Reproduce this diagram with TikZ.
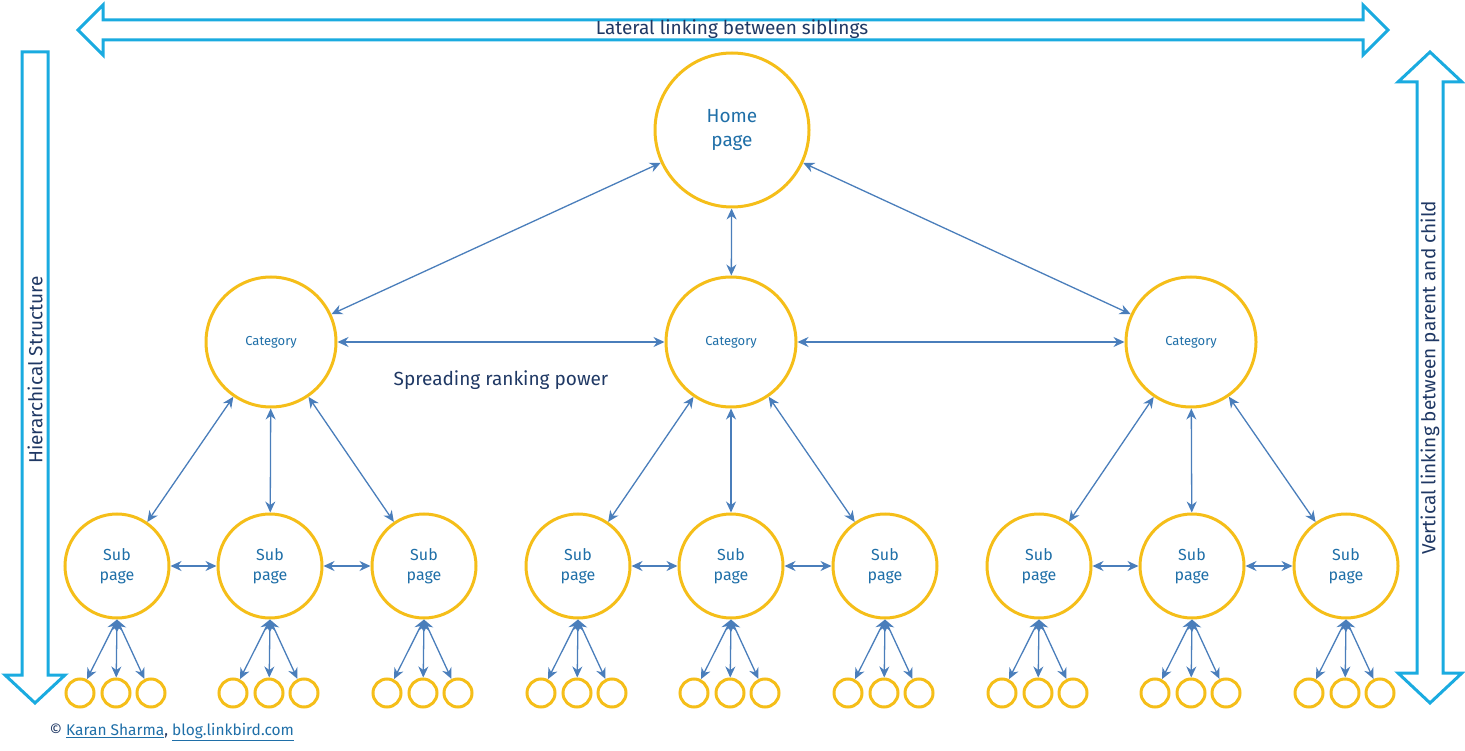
\documentclass[tikz,border=0pt]{standalone}
\usepackage{fontspec}
\setmainfont{Fira Sans}
\usetikzlibrary{arrows.meta}
\definecolor{yel}{HTML}{F5BE19}
\definecolor{txt}{HTML}{1F6FA8}
\definecolor{arr}{HTML}{4A7EBB}
\definecolor{cyan}{HTML}{1AABE0}
\definecolor{navy}{HTML}{1F3864}
\begin{document}
\begin{tikzpicture}[x=1pt,y=-1pt,
  circ/.style={circle,draw=yel,line width=3pt,fill=white,text=txt,align=center,inner sep=0pt},
  home/.style={circ,minimum size=154pt,font=\fontsize{19}{24}\selectfont},
  cat/.style={circ,minimum size=130pt,font=\fontsize{13}{15}\selectfont},
  sub/.style={circ,minimum size=104pt,font=\fontsize{16}{20}\selectfont},
  leaf/.style={circ,minimum size=28pt},
  link/.style={draw=arr,line width=1.3pt,{Stealth[length=11pt,width=10pt]}-{Stealth[length=11pt,width=10pt]}},
  hollow/.style={draw=cyan,line width=3pt,fill=white,line join=miter}]
\useasboundingbox (0,0) rectangle (1465,751);
% hollow arrows
\path[hollow] (78,30) -- (103,5) -- (103,20) -- (1363,20) -- (1363,5) -- (1388,30) -- (1363,55) -- (1363,40) -- (103,40) -- (103,55) -- cycle;
\path[hollow] (22,52) -- (48,52) -- (48,675) -- (65,675) -- (35,703) -- (5,675) -- (22,675) -- cycle;
\path[hollow] (1430,52) -- (1462,82) -- (1443,82) -- (1443,673) -- (1462,673) -- (1430,703) -- (1398,673) -- (1417,673) -- (1417,82) -- (1398,82) -- cycle;
\node[font=\fontsize{19}{22}\selectfont,text=navy] (lat) at (732,29) {Lateral linking between siblings};
\node[font=\fontsize{19}{22}\selectfont,text=navy,rotate=90] (hier) at (35,370) {Hierarchical Structure};
\node[font=\fontsize{19}{22}\selectfont,text=navy,rotate=90] (vert) at (1430,378) {Vertical linking between parent and child};
\node[font=\fontsize{19}{22}\selectfont,text=navy] (spread) at (501,380) {Spreading ranking power};
\node[anchor=west,font=\fontsize{15.5}{18}\selectfont,text=navy] (foot) at (46,732) {© \textcolor{txt}{\underline{Karan Sharma}}, \textcolor{txt}{\underline{blog.linkbird.com}}};
% nodes
\node[home] (h) at (732,130) {Home\\page};
\foreach \i/\x in {1/271,2/731,3/1191} \node[cat] (c\i) at (\x,342) {Category};
\foreach \i/\x in {1/117,2/270,3/424,4/578,5/731,6/885,7/1039,8/1192,9/1346} {
  \node[sub] (s\i) at (\x,566) {Sub\\page};
  \foreach \j/\d in {a/-37,b/-1,c/34} \node[leaf] (l\i\j) at (\x+\d,693) {};
  \foreach \j in {a,b,c} \draw[link] (s\i.south) -- (l\i\j);
}
\draw[link] (h) -- (c1); \draw[link] (h) -- (c2); \draw[link] (h) -- (c3);
\draw[link] (c1) -- (c2); \draw[link] (c2) -- (c3);
\foreach \c/\a/\b/\d in {1/1/2/3,2/4/5/6,3/7/8/9} {
  \draw[link] (c\c) -- (s\a); \draw[link] (c\c) -- (s\b); \draw[link] (c\c) -- (s\d);
  \draw[link] (s\a) -- (s\b); \draw[link] (s\b) -- (s\d);
}
\end{tikzpicture}
\end{document}
